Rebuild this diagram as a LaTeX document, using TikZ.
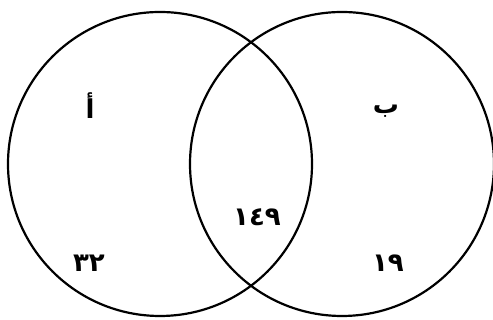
\documentclass[tikz,border=0pt]{standalone}
\usepackage{fontspec}
\newfontfamily\arabicfont[Script=Arabic]{DejaVu Sans}
\TeXXeTstate=1

\begin{document}
\begin{tikzpicture}[
  x=1pt,y=1pt,
  setcircle/.style={draw,circle,line width=2.2pt,minimum size=304pt,inner sep=0pt},
  lbl/.style={font=\arabicfont\bfseries\fontsize{26}{26}\selectfont,inner sep=0pt}
]
  \useasboundingbox (0,0) rectangle (493,320);
  % the two sets
  \node[setcircle] (setA) at (160,156) {};
  \node[setcircle] (setB) at (342,156) {};
  % set names
  \node[lbl] (nameA) at (90,214) {\beginR أ\endR};
  \node[lbl] (nameB) at (386,209) {\beginR ب\endR};
  % counts
  \node[lbl] (onlyA) at (89,57) {\beginL ٣٢\endL};
  \node[lbl] (both) at (257,103) {\beginL ١٤٩\endL};
  \node[lbl] (onlyB) at (388,57) {\beginL ١٩\endL};
\end{tikzpicture}
\end{document}
